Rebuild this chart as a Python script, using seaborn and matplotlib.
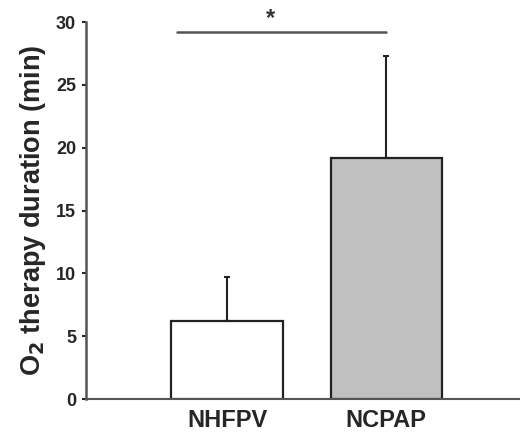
import pandas
import seaborn
import matplotlib.pyplot as plt

groups = ['NHFPV', 'NCPAP']
means = [6.2, 19.2]
sd = [3.5, 8.1]
bar_colors = ['#ffffff', '#c0c0c0']
sig_y = 29.2
sig_label = '*'

seaborn.set_style('ticks')
plt.rcParams['font.family'] = ['Liberation Sans', 'DejaVu Sans']

data = pandas.DataFrame({'group': groups, 'mean': means, 'sd': sd})

fig = plt.figure(figsize=(5.2, 4.33), dpi=100)
ax = fig.add_axes([0.165, 0.0785, 0.835, 0.8705])

seaborn.barplot(x='group', y='mean', hue='group', data=data, palette=bar_colors,
                edgecolor='#222222', linewidth=1.6, width=0.70, legend=False, ax=ax)

# upward only error bars
ax.errorbar(range(len(groups)), data['mean'], yerr=[[0] * len(groups), data['sd']],
            fmt='none', ecolor='#222222', elinewidth=1.5, capsize=2.5, capthick=1.5)

# significance bar
ax.plot([-0.315, 1.0], [sig_y, sig_y], color='#555555', lw=1.8, clip_on=False)
ax.text(0.27, sig_y + 0.2, sig_label, ha='center', va='bottom', fontsize=17, fontweight='bold', color='#333333')

ax.set_xlim(-0.887, 1.84)
ax.set_ylim(0, 30)
ax.set_yticks([0, 5, 10, 15, 20, 25, 30])
ax.set_xlabel('')
ax.set_ylabel('O$_\\mathbf{2}$ therapy duration (min)', fontsize=19.5, fontweight='bold', labelpad=6)
ax.tick_params(axis='y', labelsize=13, width=1.5, length=3, direction='out', pad=4)
ax.tick_params(axis='x', labelsize=17, length=0, pad=7)
for lbl in ax.get_xticklabels() + ax.get_yticklabels():
    lbl.set_fontweight('bold')
seaborn.despine(ax=ax, top=True, right=True)
ax.spines['left'].set_color('#555555')
ax.spines['left'].set_linewidth(1.8)
ax.spines['bottom'].set_color('#555555')
ax.spines['bottom'].set_linewidth(1.5)

plt.savefig('out.png', dpi=100)
